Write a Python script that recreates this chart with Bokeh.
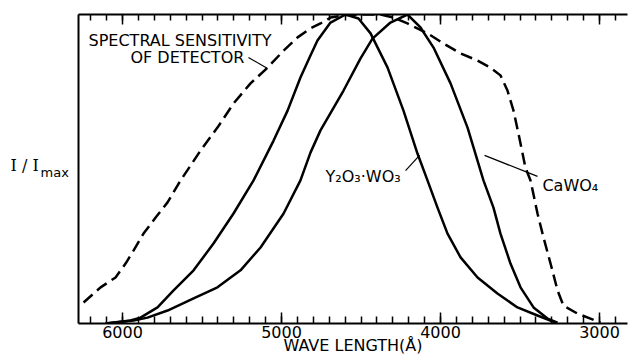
from bokeh.plotting import figure
from bokeh.models import Range1d, LinearAxis, FixedTicker, Label
from bokeh.embed import file_html
from bokeh.resources import INLINE

# ---------------- data ----------------
# spectral sensitivity of detector (dashed)
detector_wl = [6245, 6138, 6044, 5981, 5931, 5868, 5792, 5717, 5635, 5509, 5403, 5302,
               5195, 5088, 4987, 4899, 4818, 4755, 4692, 4597, 4503, 4377, 4296, 4208,
               4082, 3981, 3874, 3767, 3686, 3623, 3579, 3541, 3510, 3466, 3434, 3390,
               3352, 3308, 3264, 3227, 3138, 3057, 2994]
detector_rel = [0.068, 0.117, 0.149, 0.194, 0.236, 0.291, 0.343, 0.392, 0.463, 0.560, 0.634, 0.712,
                0.777, 0.828, 0.883, 0.926, 0.955, 0.971, 0.990, 0.998, 1.0, 1.0, 0.990, 0.971,
                0.939, 0.906, 0.874, 0.851, 0.828, 0.803, 0.754, 0.689, 0.615, 0.505, 0.463, 0.356,
                0.278, 0.194, 0.107, 0.058, 0.032, 0.016, 0.003]

# Y2O3.WO3 emission (solid)
y2o3_wl = [6107, 5950, 5887, 5780, 5679, 5553, 5428, 5302, 5176, 5050, 4962, 4881, 4818,
           4774, 4692, 4597, 4516, 4440, 4333, 4233, 4145, 4082, 4019, 3956, 3874, 3767,
           3642, 3516, 3390, 3277]
y2o3_rel = [0.0, 0.010, 0.019, 0.052, 0.107, 0.172, 0.259, 0.356, 0.463, 0.592, 0.689, 0.796, 0.867,
            0.916, 0.974, 1.0, 0.987, 0.939, 0.828, 0.689, 0.550, 0.463, 0.375, 0.291, 0.214, 0.149,
            0.097, 0.052, 0.026, 0.003]

# CaWO4 emission (solid)
cawo4_wl = [6107, 5931, 5843, 5717, 5553, 5403, 5258, 5132, 4987, 4881, 4818, 4755, 4610,
            4503, 4428, 4315, 4208, 4126, 4044, 3937, 3830, 3730, 3667, 3623, 3560, 3497,
            3415, 3327, 3264]
cawo4_rel = [0.0, 0.010, 0.019, 0.042, 0.081, 0.117, 0.172, 0.246, 0.356, 0.463, 0.553, 0.625, 0.754,
             0.858, 0.922, 0.974, 1.0, 0.958, 0.893, 0.777, 0.634, 0.463, 0.375, 0.291, 0.194, 0.117,
             0.052, 0.016, 0.003]

major_ticks = [6000, 5000, 4000, 3000]
minor_ticks = list(range(2900, 6300, 100))
x_start, x_end = 6277, 2824
y_start, y_end = 0.0, 1.0

# ---------------- figure ----------------
FONT = "DejaVu Sans"
p = figure(width=628, height=358, x_range=Range1d(x_start, x_end), y_range=Range1d(y_start, y_end),
           output_backend="svg", toolbar_location=None,
           min_border_left=78, min_border_right=1, min_border_top=14, min_border_bottom=35)
p.outline_line_color = None
p.xgrid.visible = False
p.ygrid.visible = False
p.background_fill_color = "white"
p.border_fill_color = "white"

# bottom axis
xa = p.xaxis[0]
xa.ticker = FixedTicker(ticks=major_ticks, minor_ticks=minor_ticks)
xa.axis_line_width = 2
xa.axis_line_color = "black"
xa.major_tick_in = 11
xa.major_tick_out = 0
xa.minor_tick_in = 7
xa.minor_tick_out = 0
xa.major_tick_line_width = 1.5
xa.minor_tick_line_width = 1.5
xa.major_label_standoff = 2
xa.major_label_text_font = FONT
xa.major_label_text_font_size = "16px"
xa.major_label_text_color = "black"
xa.axis_label = "WAVE LENGTH(\u00c5)"
xa.axis_label_standoff = -5
xa.axis_label_text_font = FONT
xa.axis_label_text_font_size = "16px"
xa.axis_label_text_font_style = "normal"
xa.axis_label_text_color = "black"

# top axis: ticks only
top = LinearAxis(ticker=FixedTicker(ticks=major_ticks, minor_ticks=minor_ticks),
                 major_label_overrides={t: "" for t in major_ticks},
                 major_label_text_font_size="0px", major_label_standoff=0,
                 axis_line_width=2, major_tick_in=10, major_tick_out=0,
                 minor_tick_in=6, minor_tick_out=0,
                 major_tick_line_width=1.5, minor_tick_line_width=1.5)
p.add_layout(top, "above")

# left axis: line only
ya = p.yaxis[0]
ya.ticker = FixedTicker(ticks=[])
ya.axis_line_width = 2
ya.major_tick_line_color = None
ya.minor_tick_line_color = None
ya.major_label_text_font_size = "0px"

# curves
p.line(detector_wl, detector_rel, line_color="black", line_width=2.5, line_dash="12 6")
p.line(y2o3_wl, y2o3_rel, line_color="black", line_width=2.5, line_join="round")
p.line(cawo4_wl, cawo4_rel, line_color="black", line_width=2.5, line_join="round")

# ---------------- annotations ----------------
txt = dict(text_font=FONT, text_font_size="16px", text_color="black", text_baseline="top")
p.add_layout(Label(x=6214, y=0.948, text="SPECTRAL SENSITIVITY", **txt))
p.add_layout(Label(x=5950, y=0.893, text="OF DETECTOR", **txt))
p.add_layout(Label(x=4723, y=0.508, text="Y\u2082O\u2083\u00b7WO\u2083", **txt))
p.add_layout(Label(x=3359, y=0.476, text="CaWO\u2084", **txt))

# leader lines
p.segment(x0=[5208, 4220, 3723], y0=[0.861, 0.495, 0.544],
          x1=[5088, 4132, 3390], y1=[0.825, 0.544, 0.476],
          line_color="black", line_width=1.2)

# y-axis title, placed in the left side panel (drawn without frame clipping)
p.add_layout(Label(x=-40, y=158, x_units="screen", y_units="screen", text="I / I",
                   text_font="DejaVu Serif", text_font_size="16px", text_color="black",
                   text_baseline="alphabetic"), "left")
p.add_layout(Label(x=18, y=151, x_units="screen", y_units="screen", text="max",
                   text_font=FONT, text_font_size="13px", text_color="black",
                   text_baseline="alphabetic"), "left")

open("out.html", "w").write(file_html(p, INLINE))
